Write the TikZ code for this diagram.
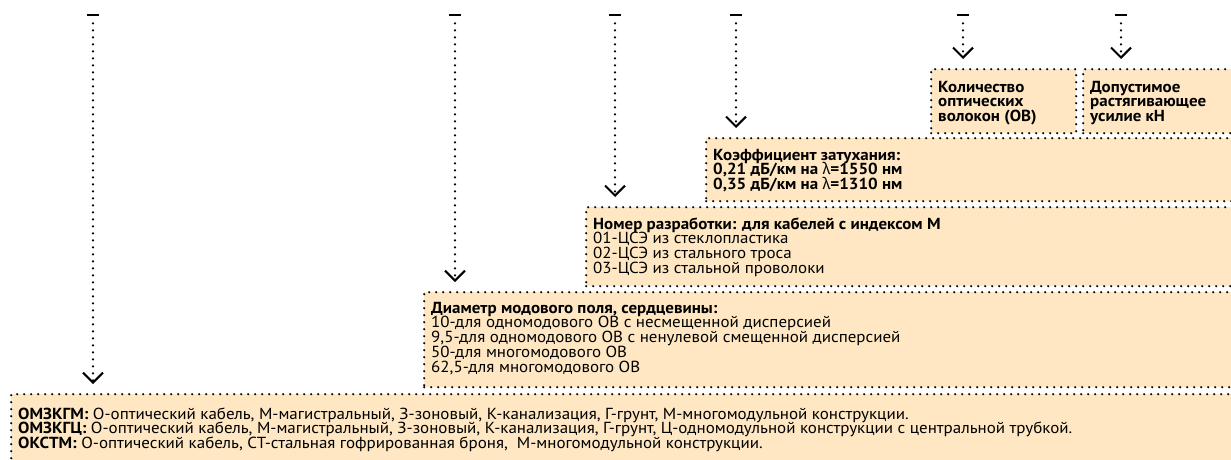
\documentclass[tikz,border=0pt]{standalone}
\usepackage{fontspec}
\setmainfont{PT Sans}[FakeStretch=1.06]
\newfontfamily\grk{Noto Sans}[FakeStretch=0.95]
\usetikzlibrary{arrows.meta}
\definecolor{boxfill}{RGB}{254,231,194}
\newcommand{\lam}{{\grk λ}}
\begin{document}
\begin{tikzpicture}[x=1pt,y=-1pt,
  dotline/.style={dash pattern=on 0pt off 7pt, line cap=round, line width=2.4pt},
  infobox/.style={dotline, draw=black, fill=boxfill, rectangle, anchor=north west, inner sep=0pt},
  dashmark/.style={fill=black, rectangle, inner sep=0pt, minimum width=12pt, minimum height=2.4pt},
  conn/.style={dotline, draw=black, shorten <=7pt, shorten >=9pt,
    -{Straight Barb[length=10pt,width=20pt,line width=2.1pt 0]}},
  txt/.style={anchor=base west, inner sep=0pt, font=\fontsize{16}{16}\selectfont},
  btxt/.style={txt, font=\fontsize{16}{16}\selectfont\bfseries}]
\useasboundingbox (0,0) rectangle (1231,459);
\clip (0,0) rectangle (1231,459);
% boxes
\node[infobox, minimum width=1300pt, minimum height=80pt] (bF) at (10,393) {};
\node[infobox, minimum width=900pt, minimum height=95pt] (bE) at (423,291) {};
\node[infobox, minimum width=700pt, minimum height=79pt] (bD) at (585,206) {};
\node[infobox, minimum width=600pt, minimum height=63pt] (bC) at (705,137) {};
\node[infobox, minimum width=145pt, minimum height=64pt] (bA) at (930,68) {};
\node[infobox, minimum width=200pt, minimum height=64pt] (bB) at (1082,68) {};
% top marks
\node[dashmark] (d1) at (93,15) {};
\node[dashmark] (d2) at (455,15) {};
\node[dashmark] (d3) at (615,15) {};
\node[dashmark] (d4) at (736,15) {};
\node[dashmark] (d5) at (963,15) {};
\node[dashmark] (d6) at (1121,15) {};
% connectors
\draw[conn] (d1.south) -- (d1.south |- bF.north);
\draw[conn] (d2.south) -- (d2.south |- bE.north);
\draw[conn] (d3.south) -- (d3.south |- bD.north);
\draw[conn] (d4.south) -- (d4.south |- bC.north);
\draw[conn] (d5.south) -- (d5.south |- bA.north);
\draw[conn] (d6.south) -- (d6.south |- bB.north);
% texts
\node[btxt] (tA1) at (938,92) {Количество};
\node[btxt] (tA2) at (938,106.7) {оптических};
\node[btxt] (tA3) at (938,121.4) {волокон (ОВ)};
\node[btxt] (tB1) at (1090,92) {Допустимое};
\node[btxt] (tB2) at (1090,106.7) {растягивающее};
\node[btxt] (tB3) at (1090,121.4) {усилие кН};
\node[btxt] (tC1) at (713,160) {Коэффициент затухания:};
\node[btxt] (tC2) at (713,174.7) {0,21 дБ/км на \lam=1550 нм};
\node[btxt] (tC3) at (713,189.4) {0,35 дБ/км на \lam=1310 нм};
\node[btxt] (tD1) at (593,229) {Номер разработки: для кабелей с индексом М};
\node[txt] (tD2) at (593,243.7) {01-ЦСЭ из стеклопластика};
\node[txt] (tD3) at (593,258.4) {02-ЦСЭ из стального троса};
\node[txt] (tD4) at (593,273.1) {03-ЦСЭ из стальной проволоки};
\node[btxt] (tE1) at (431,313) {Диаметр модового поля, сердцевины:};
\node[txt] (tE2) at (431,327.9) {10-для одномодового ОВ с несмещенной дисперсией};
\node[txt] (tE3) at (431,342.8) {9,5-для одномодового ОВ с ненулевой смещенной дисперсией};
\node[txt] (tE4) at (431,357.7) {50-для многомодового ОВ};
\node[txt] (tE5) at (431,372.6) {62,5-для многомодового ОВ};
\node[txt] (tF1) at (18,419) {\textbf{ОМЗКГМ:} О-оптический кабель, М-магистральный, З-зоновый, К-канализация, Г-грунт, М-многомодульной конструкции.};
\node[txt] (tF2) at (18,433.7) {\textbf{ОМЗКГЦ:} О-оптический кабель, М-магистральный, З-зоновый, К-канализация, Г-грунт, Ц-одномодульной конструкции с центральной трубкой.};
\node[txt] (tF3) at (18,448.4) {\textbf{ОКСТМ:} О-оптический кабель, СТ-стальная гофрированная броня,\ \ М-многомодульной конструкции.};
\end{tikzpicture}
\end{document}
